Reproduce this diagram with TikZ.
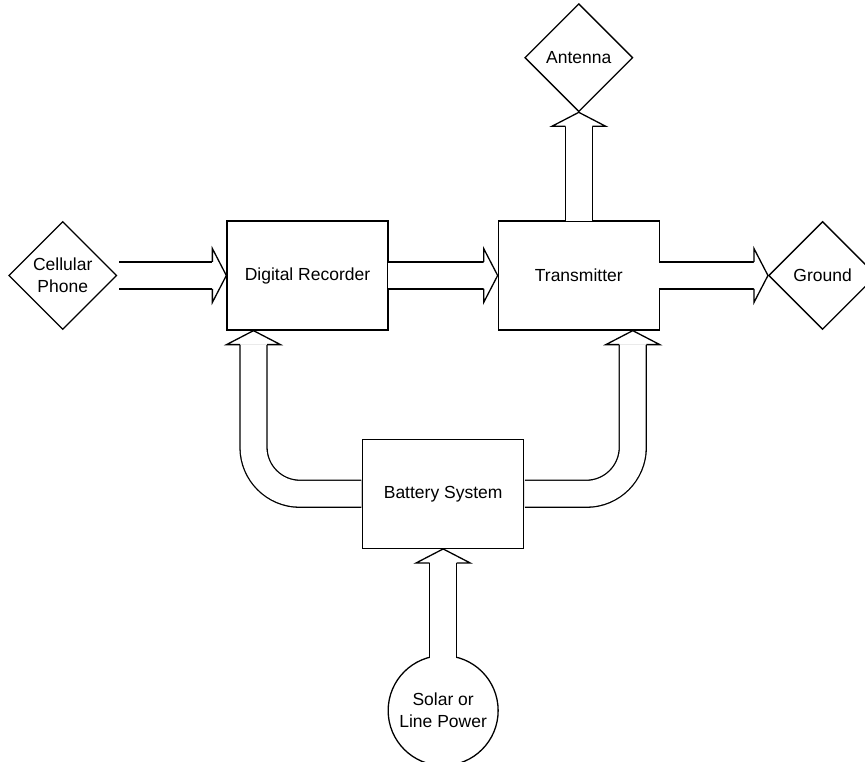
\documentclass[tikz,border=0pt]{standalone}
\usepackage{fontspec}
\setmainfont{Liberation Sans}
\usetikzlibrary{positioning,shapes.geometric,calc}

\tikzset{
  block/.style={draw, line width=1.3pt, minimum width=161pt, minimum height=109pt, inner sep=0pt},
  gate/.style={draw, diamond, aspect=1, line width=1.3pt, minimum size=108pt, inner sep=0pt, align=center},
  source/.style={draw, circle, line width=1.3pt, minimum size=110pt, inner sep=0pt, align=center},
  pipe/.style={line width=1.3pt, double=white, double distance=25.7pt, rounded corners=46.5pt},
  open tail/.style={shorten <=-1pt},
  shut tail/.style={shorten <=0.65pt},
  blockhead/.pic={
    \filldraw[fill=white, line width=1.3pt] (-14,13.5) -- (-14,27) -- (0,0) -- (-14,-27) -- (-14,-13.5);
  }
}

\begin{document}
\begin{tikzpicture}[x=1pt, y=1pt, font=\fontsize{17.5}{22}\selectfont]
\useasboundingbox (0,0) rectangle (865,762);
% boxes
\node[block] (rec) at (307.5,486.5) {Digital Recorder};
\node[block, right=109pt of rec] (trs) {Transmitter};
\coordinate (mid) at ($(rec.south)!0.5!(trs.south)$);
\node[block, below=108pt of mid] (bat) {Battery System};
% ends
\node[gate, left=109pt of rec] (cell) {Cellular\\Phone};
\node[gate, above=108pt of trs] (ant) {Antenna};
\node[gate, right=108pt of trs] (gnd) {Ground};
\node[source, below=106pt of bat] (sun) {Solar or\\Line Power};
% shafts
\draw[pipe] ([xshift=2pt]cell.east) -- ([xshift=-14pt]rec.west);
\draw[pipe, open tail] (rec.east) -- ([xshift=-14pt]trs.west);
\draw[pipe, open tail] (trs.east) -- ([xshift=-14pt]gnd.west);
\draw[pipe, open tail] (trs.north) -- ([yshift=-14pt]ant.south);
\draw[pipe, shut tail] (bat.west) -| ([shift={(-54pt,-14pt)}]rec.south);
\draw[pipe, shut tail] (bat.east) -| ([shift={(54pt,-14pt)}]trs.south);
\draw[pipe] ([yshift=-3pt]sun.north) -- ([yshift=-14pt]bat.south);
% heads
\pic at (rec.west) {blockhead};
\pic at (trs.west) {blockhead};
\pic at (gnd.west) {blockhead};
\pic[rotate=90] at (ant.south) {blockhead};
\pic[rotate=90] at ([xshift=-54pt]rec.south) {blockhead};
\pic[rotate=90] at ([xshift=54pt]trs.south) {blockhead};
\pic[rotate=90] at (bat.south) {blockhead};
\end{tikzpicture}
\end{document}
